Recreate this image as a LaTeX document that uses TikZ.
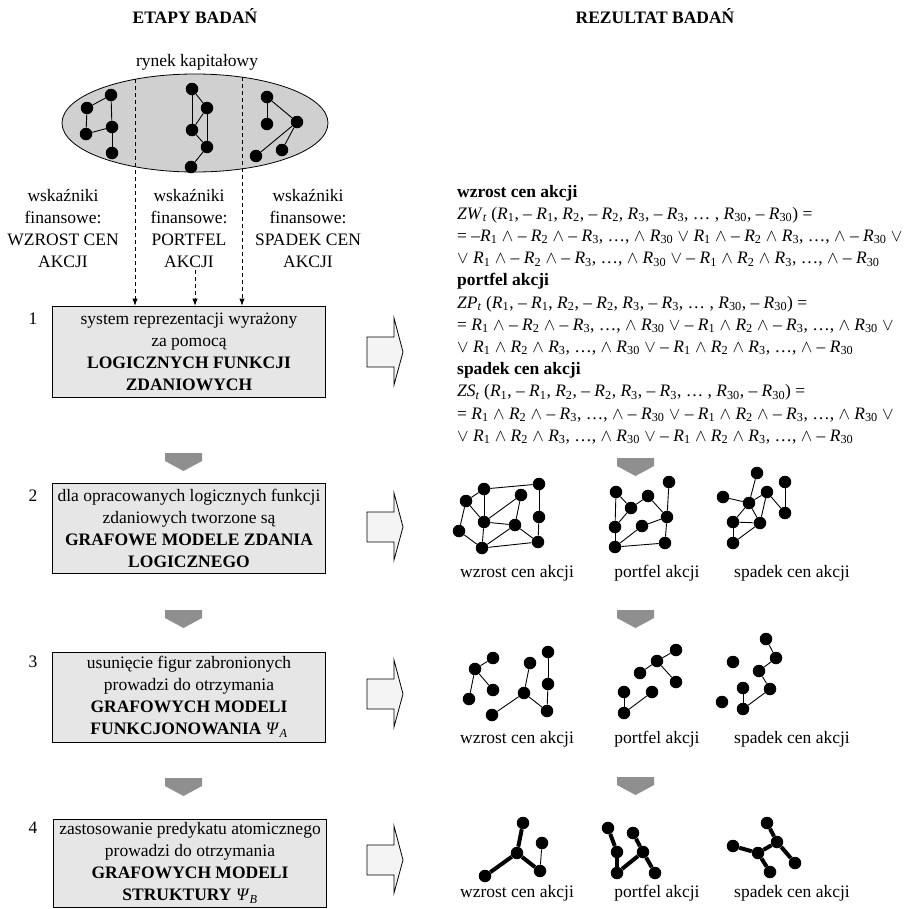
\documentclass[tikz,border=0pt]{standalone}
\usepackage{fontspec}
\setmainfont{Liberation Serif}
\usetikzlibrary{arrows.meta,shapes.geometric}
\newcommand{\fs}{\fontsize{17.5}{22}\selectfont}
\newcommand{\rr}[1]{\textit{R}\textsubscript{#1}}
\newcommand{\wa}{$\wedge$}
\newcommand{\wo}{$\vee$}
\definecolor{boxgray}{HTML}{E6E6E6}
\definecolor{ellgray}{HTML}{D0D0D0}
\definecolor{chevgray}{HTML}{8F8F8F}
\definecolor{arrfill}{HTML}{F4F4F4}
\begin{document}
\begin{tikzpicture}[x=1pt,y=-1pt,
  every node/.style={font=\fs, inner sep=0pt},
  dot/.style={circle, fill=black, minimum size=12.5pt, inner sep=0pt},
  edge/.style={line width=0.9pt},
  fatedge/.style={line width=4pt},
  stage/.style={draw=black, line width=0.8pt, fill=boxgray, minimum width=273pt, align=center},
  numlab/.style={anchor=base},
  dasharrow/.style={line width=0.8pt, dash pattern=on 4pt off 3pt, -{Latex[length=7pt,width=5.5pt]}},
  formula/.style={anchor=base west},
  glabel/.style={anchor=base}
]
\useasboundingbox (0,0) rectangle (909,908);

% headings
\node[anchor=base] (h1) at (195,23) {\textbf{ETAPY BADAŃ}};
\node[anchor=base] (h2) at (655,23) {\textbf{REZULTAT BADAŃ}};
\node[anchor=base] (rk) at (197,66) {rynek kapitałowy};

% ellipse
\node[draw=black, line width=0.8pt, fill=ellgray, ellipse, minimum width=266pt, minimum height=98pt, inner sep=0pt] (ell) at (195,123) {};

% ellipse graphs
\foreach \n/\x/\y in {a/87/108, b/111/95, c/86/134, d/112/127, e/112/153}
  \node[dot] (ea\n) at (\x,\y) {};
\foreach \u/\v in {a/b, a/c, c/d, b/d, d/e}
  \draw[edge] (ea\u) -- (ea\v);
\foreach \n/\x/\y in {a/192/89, b/207/108, c/192/130, d/207/147, e/191/167}
  \node[dot] (eb\n) at (\x,\y) {};
\foreach \u/\v in {a/b, a/c, c/b, b/d, c/d, d/e}
  \draw[edge] (eb\u) -- (eb\v);
\foreach \n/\x/\y in {a/267/97, b/267/124, c/297/122, d/256/156, e/282/150}
  \node[dot] (ec\n) at (\x,\y) {};
\foreach \u/\v in {a/b, a/c, c/d, c/e}
  \draw[edge] (ec\u) -- (ec\v);

% column texts
\foreach \t [count=\i] in {wskaźniki, finansowe:, WZROST CEN, AKCJI}
  \node[anchor=base] (ca\i) at (63,{179+22*\i}) {\t};
\foreach \t [count=\i] in {wskaźniki, finansowe:, PORTFEL, AKCJI}
  \node[anchor=base] (cb\i) at (189,{179+22*\i}) {\t};
\foreach \t [count=\i] in {wskaźniki, finansowe:, SPADEK CEN, AKCJI}
  \node[anchor=base] (cc\i) at (308,{179+22*\i}) {\t};

% stage boxes
\node[stage, minimum height=91pt] (box1) at (189,351.5) {system reprezentacji wyrażony\\za pomocą\\\textbf{LOGICZNYCH FUNKCJI}\\\textbf{ZDANIOWYCH}};
\node[stage, minimum height=90pt] (box2) at (189,528) {dla opracowanych logicznych funkcji\\zdaniowych tworzone są\\\textbf{GRAFOWE MODELE ZDANIA}\\\textbf{LOGICZNEGO}};
\node[stage, minimum height=90pt] (box3) at (189,697) {usunięcie figur zabronionych\\prowadzi do otrzymania\\\textbf{GRAFOWYCH MODELI}\\\textbf{FUNKCJONOWANIA} \textit{Ψ}\textsubscript{\textit{A}}};
\node[stage, minimum height=88pt] (box4) at (190,863) {zastosowanie predykatu atomicznego\\prowadzi do otrzymania\\\textbf{GRAFOWYCH MODELI}\\\textbf{STRUKTURY} \textit{Ψ}\textsubscript{\textit{B}}};

\node[numlab] (n1) at (33,324) {1};
\node[numlab] (n2) at (33,501) {2};
\node[numlab] (n3) at (33,667) {3};
\node[numlab] (n4) at (33,833) {4};

% dashed arrows
\coordinate (d1) at (135,79);
\coordinate (d2) at (195,270);
\coordinate (d3) at (242,77);
\draw[dasharrow] (d1) -- (d1 |- box1.north);
\draw[dasharrow] (d2) -- (d2 |- box1.north);
\draw[dasharrow] (d3) -- (d3 |- box1.north);

% block arrows
\foreach \yc in {352, 527, 694, 860}
  \draw[line width=0.8pt, fill=arrfill] (367,\yc-15) -- (394,\yc-15) -- (394,\yc-34) -- (403,\yc) -- (394,\yc+33) -- (394,\yc+15) -- (367,\yc+15) -- cycle;

% gray chevrons
\foreach \xc/\yt in {183.5/453, 183.5/610, 183.5/778, 635.5/458, 635.5/610, 635.5/777}
  \fill[chevgray] (\xc-18.5,\yt) -- (\xc+18.5,\yt) -- (\xc+18.5,\yt+8) -- (\xc,\yt+18) -- (\xc-18.5,\yt+8) -- cycle;

% formulas
\node[formula] (f0) at (457,197) {\textbf{wzrost cen akcji}};
\node[formula] (f1) at (457,219.2) {\textit{ZW}\textsubscript{\textit{t}} (\rr{1}, -- \rr{1}, \rr{2}, -- \rr{2}, \rr{3}, -- \rr{3}, … , \rr{30}, -- \rr{30}) =};
\node[formula] (f2) at (457,241.4) {= --\rr{1} \wa{} -- \rr{2} \wa{} -- \rr{3}, …, \wa{} \rr{30} \wo{} \rr{1} \wa{} -- \rr{2} \wa{} \rr{3}, …, \wa{} -- \rr{30} \wo};
\node[formula] (f3) at (457,263.6) {\wo{} \rr{1} \wa{} -- \rr{2} \wa{} -- \rr{3}, …, \wa{} \rr{30} \wo{} -- \rr{1} \wa{} \rr{2} \wa{} \rr{3}, …, \wa{} -- \rr{30}};
\node[formula] (f4) at (457,285.8) {\textbf{portfel akcji}};
\node[formula] (f5) at (457,308) {\textit{ZP}\textsubscript{\textit{t}} (\rr{1}, -- \rr{1}, \rr{2}, -- \rr{2}, \rr{3}, -- \rr{3}, … , \rr{30}, -- \rr{30}) =};
\node[formula] (f6) at (457,330.2) {= \rr{1} \wa{} -- \rr{2} \wa{} -- \rr{3}, …, \wa{} \rr{30} \wo{} -- \rr{1} \wa{} \rr{2} \wa{} -- \rr{3}, …, \wa{} \rr{30} \wo};
\node[formula] (f7) at (457,352.4) {\wo{} \rr{1} \wa{} \rr{2} \wa{} \rr{3}, …, \wa{} \rr{30} \wo{} -- \rr{1} \wa{} \rr{2} \wa{} \rr{3}, …, \wa{} -- \rr{30}};
\node[formula] (f8) at (457,374.6) {\textbf{spadek cen akcji}};
\node[formula] (f9) at (457,396.8) {\textit{ZS}\textsubscript{\textit{t}} (\rr{1}, -- \rr{1}, \rr{2}, -- \rr{2}, \rr{3}, -- \rr{3}, … , \rr{30}, -- \rr{30}) =};
\node[formula] (f10) at (457,419) {= \rr{1} \wa{} \rr{2} \wa{} -- \rr{3}, …, \wa{} -- \rr{30} \wo{} -- \rr{1} \wa{} \rr{2} \wa{} -- \rr{3}, …, \wa{} \rr{30} \wo};
\node[formula] (f11) at (457,441.2) {\wo{} \rr{1} \wa{} \rr{2} \wa{} \rr{3}, …, \wa{} \rr{30} \wo{} -- \rr{1} \wa{} \rr{2} \wa{} \rr{3}, …, \wa{} -- \rr{30}};

% row 2 graphs
\foreach \n/\x/\y in {a/466/501, b/484/489, c/539/484, d/521/495, e/539/517, f/459/531, g/484/522, h/515/525, i/482/548, j/538/542}
  \node[dot] (wa\n) at (\x,\y) {};
\foreach \u/\v in {a/b, b/c, a/f, a/g, b/g, g/d, d/h, g/h, c/e, e/j, h/j, f/i, g/i, i/h, i/j}
  \draw[edge] (wa\u) -- (wa\v);
\foreach \n/\x/\y in {a/616/492, b/631/508, c/648/496, d/669/482, e/667/517, f/615/527, g/642/526, h/615/547, i/665/543}
  \node[dot] (pa\n) at (\x,\y) {};
\foreach \u/\v in {a/b, f/b, b/c, c/e, d/e, a/f, f/h, h/g, g/e, e/i, h/i}
  \draw[edge] (pa\u) -- (pa\v);
\foreach \n/\x/\y in {p/757/473, q/785/482, r/723/497, s/767/492, t/749/503, u/785/513, v/733/522, w/760/523, x/733/543}
  \node[dot] (sa\n) at (\x,\y) {};
\foreach \u/\v in {p/t, r/t, t/s, s/u, q/u, t/v, t/w, s/w, v/w, v/x, x/w}
  \draw[edge] (sa\u) -- (sa\v);
\node[glabel] (l2a) at (517,577) {wzrost cen akcji};
\node[glabel] (l2b) at (657,577) {portfel akcji};
\node[glabel] (l2c) at (792,577) {spadek cen akcji};

% row 3 graphs
\foreach \n/\x/\y in {a/493/658, b/475/669, c/493/690, d/469/699, e/530/663, f/548/652, g/548/684, h/524/693, i/492/715, j/547/711}
  \node[dot] (wb\n) at (\x,\y) {};
\foreach \u/\v in {a/b, b/c, b/d, e/h, f/g, g/j, h/j, h/i}
  \draw[edge] (wb\u) -- (wb\v);
\foreach \n/\x/\y in {a/676/650, b/657/661, c/640/673, d/676/682, e/624/692, f/652/692, g/624/713}
  \node[dot] (pb\n) at (\x,\y) {};
\foreach \u/\v in {a/b, b/c, b/d, e/g, g/f}
  \draw[edge] (pb\u) -- (pb\v);
\foreach \n/\x/\y in {p/766/639, q/776/658, r/733/662, s/759/671, t/743/688, u/770/689, v/722/702, w/743/709}
  \node[dot] (sb\n) at (\x,\y) {};
\foreach \u/\v in {p/q, q/s, s/u, u/w, t/w}
  \draw[edge] (sb\u) -- (sb\v);
\node[glabel] (l3a) at (517,743) {wzrost cen akcji};
\node[glabel] (l3b) at (657,743) {portfel akcji};
\node[glabel] (l3c) at (792,743) {spadek cen akcji};

% row 4 graphs
\foreach \n/\x/\y in {t/523/823, c/517/853, r/540/871, s/542/843, l/485/876}
  \node[dot] (wc\n) at (\x,\y) {};
\foreach \u/\v in {t/c, c/l, c/r}
  \draw[fatedge] (wc\u) -- (wc\v);
\draw[edge] (wcs) -- (wcr);
\foreach \n/\x/\y in {a/608/828, b/633/833, c/617/852, d/643/852, e/617/873, f/655/873}
  \node[dot] (pc\n) at (\x,\y) {};
\foreach \u/\v in {a/c, c/e, b/d, d/f, e/d}
  \draw[fatedge] (pc\u) -- (pc\v);
\foreach \n/\x/\y in {a/767/823, b/777/842, c/733/846, d/758/853, e/795/863, f/770/872}
  \node[dot] (sc\n) at (\x,\y) {};
\foreach \u/\v in {a/b, b/e, b/d, c/d, d/f}
  \draw[fatedge] (sc\u) -- (sc\v);
\node[glabel] (l4a) at (517,897) {wzrost cen akcji};
\node[glabel] (l4b) at (657,897) {portfel akcji};
\node[glabel] (l4c) at (792,897) {spadek cen akcji};
\end{tikzpicture}
\end{document}
